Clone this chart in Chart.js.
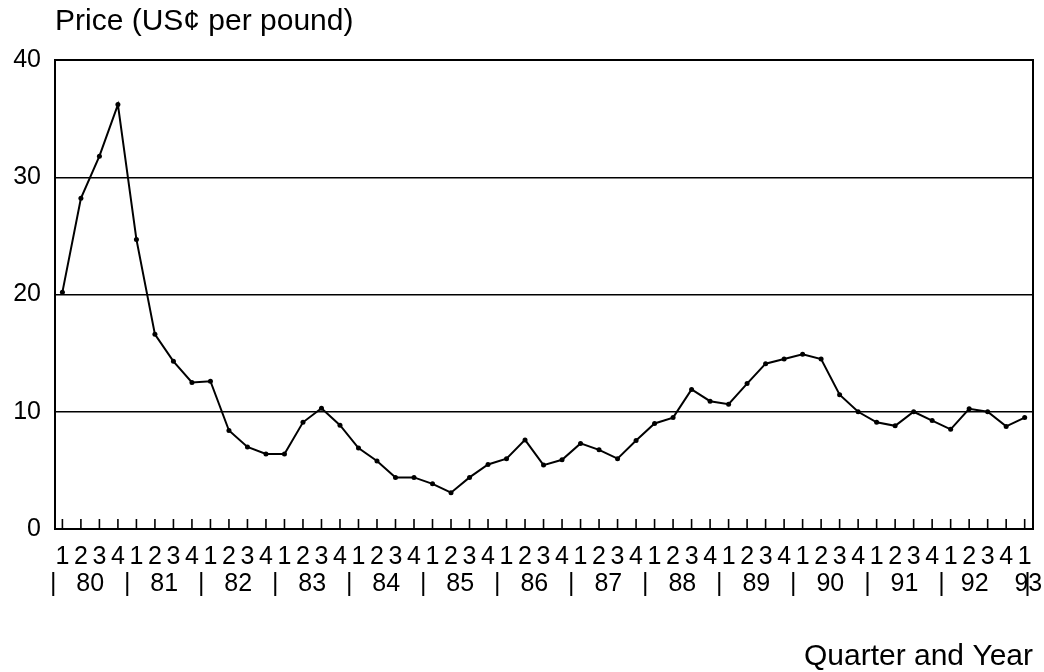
<!DOCTYPE html>
<html>
<head>
<meta charset="utf-8">
<script src="https://cdn.jsdelivr.net/npm/chart.js@4.4.0/dist/chart.umd.min.js"></script>
<style>
    html, body { margin: 0; padding: 0; background: #fff; }
    #wrap { width: 1044px; height: 672px; }
</style>
</head>
<body>
<div id="wrap"><canvas id="chartSugar" width="1044" height="672"></canvas></div>
<script>
// dados (US cents por libra, trimestral 1980Q1 - 1993Q1)
var years = ["80", "81", "82", "83", "84", "85", "86", "87", "88", "89", "90", "91", "92", "93"];
var quarters = ["1", "2", "3", "4"];
var prices = [
    20.2, 28.2, 31.8, 36.2,
    24.7, 16.6, 14.3, 12.5,
    12.6, 8.4, 7.0, 6.4,
    6.4, 9.1, 10.3, 8.85,
    6.9, 5.8, 4.4, 4.4,
    3.85, 3.1, 4.4, 5.5,
    6.0, 7.6, 5.45, 5.9,
    7.3, 6.75, 6.0, 7.55,
    9.0, 9.5, 11.9, 10.9,
    10.65, 12.4, 14.1, 14.5,
    14.9, 14.5, 11.45, 10.0,
    9.1, 8.8, 10.0, 9.25,
    8.5, 10.25, 10.0, 8.75,
    9.5
];
var yTicks = [0, 10, 20, 30, 40];

// rotulos do eixo x: trimestre em cada ponto, ano entre os trimestres 2 e 3
var categories = prices.map(function (p, i) {
    return {quarter: quarters[i % 4], year: years[Math.floor(i / 4)]};
});
var points = prices.map(function (p, i) {
    return {x: i, y: p};
});

var yearTicks = [];
years.forEach(function (y, k) {
    if (k < years.length - 1) {
        yearTicks.push({value: k * 4 - 0.5, txt: "|"});
        yearTicks.push({value: k * 4 + (k === years.length - 2 ? 1.3 : 1.5), txt: y});
    } else {
        yearTicks.push({value: k * 4 + 0.15, txt: "|"});
        yearTicks.push({value: k * 4 + 0.2, txt: y});
    }
});

Chart.defaults.font.family = "'Liberation Sans', Arial, sans-serif";
Chart.defaults.color = "#000";

// moldura e tracinhos internos do eixo x
var framePlugin = {
    id: "frame",
    afterDraw: function (chart) {
        var ctx = chart.ctx;
        var a = chart.chartArea;
        var xs = chart.scales.x;
        ctx.save();
        ctx.strokeStyle = "#000";
        ctx.lineWidth = 1.6;
        categories.forEach(function (c, i) {
            var px = xs.getPixelForValue(i);
            ctx.beginPath();
            ctx.moveTo(px, a.bottom);
            ctx.lineTo(px, a.bottom - 10);
            ctx.stroke();
        });
        ctx.lineWidth = 2;
        ctx.strokeRect(a.left, a.top, a.right - a.left, a.bottom - a.top);
        ctx.restore();
    }
};

var ctx1 = document.getElementById("chartSugar").getContext("2d");
new Chart(ctx1, {
    type: "line",
    data: {
        datasets: [{
            label: "Price",
            data: points,
            borderColor: "#000",
            backgroundColor: "#000",
            borderWidth: 2,
            pointRadius: 2.5,
            pointBackgroundColor: "#000",
            pointBorderWidth: 0,
            tension: 0
        }]
    },
    options: {
        responsive: false,
        animation: false,
        layout: {padding: {left: 0, right: 11, top: 0, bottom: 0}},
        plugins: {
            legend: {display: false},
            tooltip: {enabled: false},
            title: {
                display: true,
                text: "Price (US\u00a2 per pound)",
                align: "start",
                fullSize: false,
                font: {size: 30, weight: "normal", lineHeight: 1.2},
                padding: {top: 4, bottom: 20},
                color: "#000"
            },
            subtitle: {
                display: true,
                text: "Quarter and Year",
                position: "bottom",
                align: "end",
                font: {size: 30, weight: "normal", lineHeight: 1},
                padding: {top: 46, bottom: 0},
                color: "#000"
            }
        },
        scales: {
            x: {
                type: "linear",
                position: "bottom",
                min: -0.4,
                max: 52.45,
                grid: {display: false},
                border: {display: true, color: "#000", width: 2},
                ticks: {
                    autoSkip: false,
                    maxRotation: 0,
                    padding: 5,
                    font: {size: 25},
                    callback: function (v) {
                        return categories[v] ? categories[v].quarter : "";
                    }
                },
                afterBuildTicks: function (scale) {
                    scale.ticks = categories.map(function (c, i) {
                        return {value: i};
                    });
                },
                afterFit: function (scale) {
                    scale.height = 38;
                    scale.paddingLeft = 0;
                    scale.paddingRight = 0;
                }
            },
            x2: {
                type: "linear",
                position: "bottom",
                weight: 1,
                min: -0.4,
                max: 52.45,
                grid: {display: false, drawTicks: false},
                border: {display: false},
                ticks: {
                    autoSkip: false,
                    maxRotation: 0,
                    padding: 2,
                    font: {size: 25},
                    callback: function (v, i, ticks) {
                        return ticks[i].txt;
                    }
                },
                afterBuildTicks: function (scale) {
                    scale.ticks = yearTicks.map(function (t) {
                        return {value: t.value, txt: t.txt};
                    });
                },
                afterFit: function (scale) {
                    scale.height = 29;
                    scale.paddingLeft = 0;
                    scale.paddingRight = 0;
                }
            },
            y: {
                min: 0,
                max: 40,
                grid: {color: "#000", lineWidth: 1.4, drawTicks: false},
                border: {display: true, color: "#000", width: 2},
                ticks: {
                    stepSize: 10,
                    padding: 14,
                    font: {size: 25}
                },
                afterBuildTicks: function (scale) {
                    scale.ticks = yTicks.map(function (v) {
                        return {value: v};
                    });
                },
                afterFit: function (scale) {
                    scale.width = 55;
                    scale.paddingTop = 0;
                    scale.paddingBottom = 0;
                }
            }
        }
    },
    plugins: [framePlugin]
});
</script>
</body>
</html>
